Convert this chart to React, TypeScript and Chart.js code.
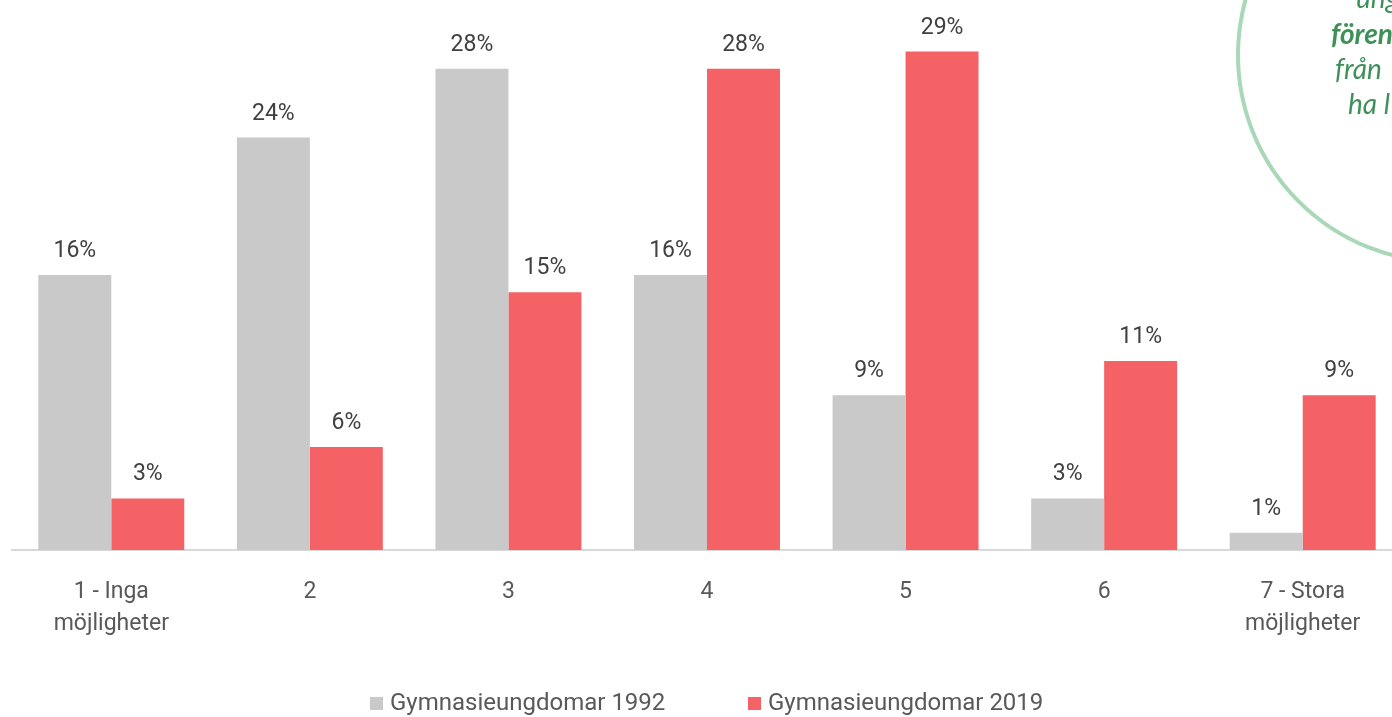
import React, { useEffect, useRef } from "react";
import { Chart, registerables } from "chart.js";

Chart.register(...registerables);

const categories: string[][] = [
  ["1 - Inga", "möjligheter"],
  ["2"],
  ["3"],
  ["4"],
  ["5"],
  ["6"],
  ["7 - Stora", "möjligheter"],
];
const series1992: number[] = [16, 24, 28, 16, 9, 3, 1];
const series2019: number[] = [3, 6, 15, 28, 29, 11, 9];
const seriesLabels: string[] = ["Gymnasieungdomar 1992", "Gymnasieungdomar 2019"];
const seriesColors: string[] = ["#c9c9c9", "#f46265"];
const circleLines: string[] = ["ung", "fören", "från", "ha l"];

const FONT = "Roboto, 'Noto Sans', sans-serif";

const overlayPlugin = {
  id: "overlay",
  afterDatasetsDraw(chart: any) {
    const ctx = chart.ctx;
    ctx.save();
    // data labels
    ctx.font = `23px ${FONT}`;
    ctx.fillStyle = "#404040";
    ctx.textAlign = "center";
    ctx.textBaseline = "alphabetic";
    chart.data.datasets.forEach((ds: any, i: number) => {
      const meta = chart.getDatasetMeta(i);
      meta.data.forEach((bar: any, j: number) => {
        ctx.fillText(`${ds.data[j]}%`, bar.x, bar.y - 18);
      });
    });
    // legend
    const items = [
      { x: 370, label: chart.data.datasets[0].label, color: chart.data.datasets[0].backgroundColor },
      { x: 748, label: chart.data.datasets[1].label, color: chart.data.datasets[1].backgroundColor },
    ];
    ctx.font = `24px ${FONT}`;
    ctx.textAlign = "left";
    ctx.textBaseline = "middle";
    items.forEach((it) => {
      ctx.fillStyle = it.color;
      ctx.fillRect(it.x, 697, 13, 13);
      ctx.fillStyle = "#595959";
      ctx.fillText(it.label, it.x + 20, 704);
    });
    // decorative circle
    ctx.beginPath();
    ctx.strokeStyle = "#a9d8b8";
    ctx.lineWidth = 4;
    ctx.arc(1445, 55, 207, 0, Math.PI * 2);
    ctx.stroke();
    ctx.fillStyle = "#3e9058";
    ctx.textBaseline = "alphabetic";
    const xs = [1356, 1331, 1335, 1348];
    const ys = [8, 44, 79, 114];
    circleLines.forEach((t, i) => {
      ctx.font = `italic ${i === 1 ? "bold " : ""}28px Lato, sans-serif`;
      ctx.fillText(t, xs[i], ys[i]);
    });
    ctx.restore();
  },
};

export default function App() {
  const ref = useRef<HTMLCanvasElement | null>(null);
  useEffect(() => {
    if (!ref.current) return;
    const chart = new Chart(ref.current, {
      type: "bar",
      data: {
        labels: categories,
        datasets: [
          { label: seriesLabels[0], data: series1992, backgroundColor: seriesColors[0] },
          { label: seriesLabels[1], data: series2019, backgroundColor: seriesColors[1] },
        ],
      },
      options: {
        animation: false,
        responsive: false,
        maintainAspectRatio: false,
        layout: { padding: { left: 12, right: 0, top: 0, bottom: 0 } },
        datasets: { bar: { categoryPercentage: 0.735, barPercentage: 1 } },
        plugins: { legend: { display: false }, tooltip: { enabled: false } },
        scales: {
          x: {
            grid: { display: false },
            border: { display: true, color: "#d9d9d9", width: 2 },
            ticks: {
              color: "#595959",
              font: { family: FONT, size: 23, lineHeight: 1.4 },
              padding: 18,
              maxRotation: 0,
              autoSkip: false,
            },
            afterFit: (scale: any) => {
              scale.height = 167;
            },
          },
          y: { display: false, min: 0, max: 32 },
        },
      },
      plugins: [overlayPlugin],
    });
    return () => chart.destroy();
  }, []);
  return (
    <div style={{ position: "fixed", left: 0, top: 0, width: 1392, height: 717, overflow: "hidden", background: "#fff" }}>
      <canvas ref={ref} width={1402} height={717} style={{ display: "block", width: 1402, height: 717 }} />
    </div>
  );
}
